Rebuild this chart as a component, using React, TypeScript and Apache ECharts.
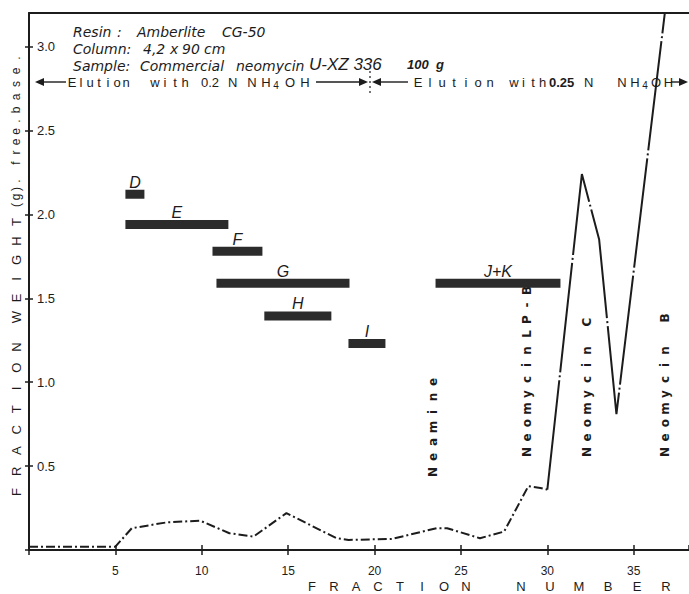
import React, { useEffect, useRef } from "react";
import * as echarts from "echarts";

// ---- data ----
const lowerFractions = [0, 5, 5.95, 8, 9.9, 11.6, 13, 14.9, 17.8, 18.5, 21, 23.6, 24.2, 26.1, 27.5, 28.9, 29.6, 30];
const lowerWeights = [0.02, 0.02, 0.13, 0.165, 0.175, 0.1, 0.08, 0.22, 0.07, 0.06, 0.066, 0.13, 0.13, 0.07, 0.11, 0.38, 0.37, 0.36];
const upperFractions = [30, 32, 33, 34, 37];
const upperWeights = [0.36, 2.24, 1.85, 0.81, 3.37];

const rangeNames = ["D", "E", "F", "G", "H", "I", "J+K"];
const rangeStarts = [5.58, 5.58, 10.62, 10.85, 13.62, 18.49, 23.53];
const rangeEnds = [6.68, 11.54, 13.51, 18.55, 17.5, 20.63, 30.76];
const rangeLevels = [2.12, 1.94, 1.78, 1.59, 1.395, 1.23, 1.59];

const xTickValues = [5, 10, 15, 20, 25, 30, 35];
const yTickValues = [0.5, 1.0, 1.5, 2.0, 2.5, 3.0];

const INK = "#1c1c1c";
const SANS = "Liberation Sans";
const DEJA = "DejaVu Sans";

type F = { size: number; family: string; style?: string; weight?: string };

function txt(text: string, x: number, y: number, f: F, align = "left", extra: any = {}) {
  return {
    type: "text",
    x,
    y,
    silent: true,
    ...extra,
    style: {
      text,
      fontSize: f.size,
      fontFamily: f.family,
      fontStyle: f.style || "normal",
      fontWeight: f.weight || "normal",
      fill: INK,
      align,
      verticalAlign: "middle",
      textAlign: align,
      textVerticalAlign: "middle",
    },
  };
}

function hLetters(str: string, x0: number, y: number, step: number, f: F) {
  const out: any[] = [];
  let x = x0;
  for (const ch of str) {
    if (ch !== " ") out.push(txt(ch, x, y, f, "center"));
    x += step;
  }
  return out;
}

function vLetters(str: string, x: number, y0: number, step: number, spaceStep: number, f: F) {
  const out: any[] = [];
  let y = y0;
  for (const ch of str) {
    if (ch === " ") {
      y -= spaceStep;
      continue;
    }
    out.push(txt(ch, x, y, f, "center", { rotation: Math.PI / 2 }));
    y -= step;
  }
  return out;
}

function arrowHead(tipX: number, y: number, dir: number) {
  return {
    type: "polygon",
    silent: true,
    shape: { points: [[tipX, y], [tipX - dir * 9, y - 4], [tipX - dir * 9, y + 4]] },
    style: { fill: INK },
  };
}

function hLine(x1: number, x2: number, y: number, extra: any = {}) {
  return {
    type: "line",
    silent: true,
    shape: { x1, y1: y, x2, y2: y },
    style: { stroke: INK, lineWidth: 1.4, ...extra },
  };
}

function buildGraphics() {
  const els: any[] = [];
  const hdr: F = { size: 14, family: DEJA, style: "italic" };
  // header, word by word
  els.push(txt("Resin", 73, 32, hdr));
  els.push(txt(":", 117, 32, hdr));
  els.push(txt("Amberlite", 137, 32, hdr));
  els.push(txt("CG-50", 222, 32, hdr));
  els.push(txt("Column:", 73, 49, hdr));
  els.push(txt("4,2", 143, 49, hdr));
  els.push(txt("x", 170, 49, hdr));
  els.push(txt("90", 182, 49, hdr));
  els.push(txt("cm", 204, 49, hdr));
  els.push(txt("Sample:", 73, 66, hdr));
  els.push(txt("Commercial", 140, 66, hdr));
  els.push(txt("neomycin", 236, 66, hdr));
  els.push(txt("U-XZ 336", 309, 64, { size: 17, family: SANS, style: "italic" }));
  els.push(txt("100  g", 407, 64, { size: 13, family: SANS, style: "italic", weight: "bold" }));

  // elution row
  const ey = 82;
  const ef: F = { size: 13, family: SANS };
  const sub: F = { size: 10, family: SANS };
  els.push(arrowHead(35, ey, -1));
  els.push(hLine(43, 66, ey));
  els.push(...hLetters("Elution", 72, ey, 9, ef));
  els.push(...hLetters("with", 155, ey, 10, ef));
  els.push(txt("0.2", 201, ey, ef));
  els.push(txt("N", 228, ey, ef));
  els.push(...hLetters("NH", 252, ey, 14, ef));
  els.push(txt("4", 276, ey + 3, sub, "center"));
  els.push(...hLetters("OH", 290, ey, 15, ef));
  els.push(hLine(316, 360, ey));
  els.push(arrowHead(368, ey, 1));
  els.push({
    type: "line",
    silent: true,
    shape: { x1: 370, y1: 71, x2: 370, y2: 94 },
    style: { stroke: INK, lineWidth: 1.2, lineDash: [2, 3] },
  });
  els.push(arrowHead(372, ey, -1));
  els.push(hLine(380, 408, ey));
  els.push(...hLetters("Elution", 418, ey, 12, ef));
  els.push(...hLetters("with", 514, ey, 9.5, ef));
  els.push(txt("0.25", 549, ey, { size: 13, family: SANS, weight: "bold" }));
  els.push(txt("N", 584, ey, ef));
  els.push(...hLetters("NH", 622, ey, 13, ef));
  els.push(txt("4", 645, ey + 3, sub, "center"));
  els.push(...hLetters("OH", 656, ey, 12.5, ef));
  els.push(hLine(671, 680, ey));
  els.push(arrowHead(688, ey, 1));

  // peak names
  const pf: F = { size: 12, family: DEJA, weight: "bold" };
  els.push(...vLetters("Neamine", 433, 472, 15, 0, pf));
  els.push(...vLetters("Neomycin LP-B", 527, 452, 14.5, 2, pf));
  els.push(...vLetters("Neomycin C", 587, 452, 14.5, 14, pf));
  els.push(...vLetters("Neomycin B", 665, 452, 14.5, 18, pf));

  // axis titles
  const af: F = { size: 13, family: SANS };
  const lf: F = { size: 12, family: SANS };
  els.push(...hLetters("FRACTION", 312, 586, 22, af));
  els.push(...hLetters("NUMBER", 521, 586, 29, af));
  els.push(...vLetters("FRACTION", 16, 492, 20.7, 0, af));
  els.push(...vLetters("WEIGHT", 16, 317, 19, 0, af));
  els.push(...vLetters("(g).", 16, 205, 8, 0, lf));
  els.push(...vLetters("free.", 16, 163, 10.5, 0, lf));
  els.push(...vLetters("base.", 16, 110, 13, 0, lf));
  return els;
}

export default function App() {
  const ref = useRef<HTMLDivElement>(null);
  useEffect(() => {
    if (!ref.current) return;
    const chart = echarts.init(ref.current, undefined, { renderer: "svg" });
    const axisLine = { show: true, onZero: false, lineStyle: { color: INK, width: 2 } };
    const tickStyle = { color: INK, width: 1.5 };
    const xCommon = { type: "value", min: 0, max: 38.2, interval: 5, splitLine: { show: false } };
    const yCommon = { type: "value", min: 0, max: 3.2, interval: 0.5, splitLine: { show: false } };
    const option: any = {
      animation: false,
      backgroundColor: "#ffffff",
      grid: { left: 29, top: 13, right: 0, bottom: 44, containLabel: false },
      xAxis: [
        {
          ...xCommon,
          position: "bottom",
          axisLine,
          axisTick: { show: true, length: 5, lineStyle: tickStyle },
          axisLabel: {
            margin: 15,
            fontSize: 12,
            fontFamily: SANS,
            color: INK,
            showMaxLabel: false,
            formatter: (v: number) => (xTickValues.includes(v) ? String(v) : ""),
          },
        },
        {
          ...xCommon,
          position: "bottom",
          axisLine: { show: false },
          axisTick: { show: true, inside: true, length: 5, lineStyle: tickStyle },
          axisLabel: { show: false },
        },
        {
          ...xCommon,
          position: "top",
          axisLine,
          axisTick: { show: false },
          axisLabel: { show: false },
        },
      ],
      yAxis: [
        {
          ...yCommon,
          position: "left",
          axisLine,
          axisTick: { show: true, length: 4, lineStyle: tickStyle },
          axisLabel: {
            inside: true,
            margin: 8,
            fontSize: 13,
            fontFamily: SANS,
            color: INK,
            showMaxLabel: false,
            formatter: (v: number) =>
              yTickValues.some((t) => Math.abs(t - v) < 1e-6) ? v.toFixed(1) : "",
          },
        },
        {
          ...yCommon,
          position: "left",
          axisLine: { show: false },
          axisTick: { show: true, inside: true, length: 4, lineStyle: tickStyle },
          axisLabel: { show: false },
        },
      ],
      series: [
        {
          type: "line",
          xAxisIndex: 0,
          yAxisIndex: 0,
          data: lowerFractions.map((x, i) => [x, lowerWeights[i]]),
          showSymbol: false,
          symbol: "none",
          clip: true,
          lineStyle: { color: INK, width: 2, type: [9, 3, 2, 3] },
        },
        {
          type: "line",
          xAxisIndex: 0,
          yAxisIndex: 0,
          data: upperFractions.map((x, i) => [x, upperWeights[i]]),
          showSymbol: false,
          symbol: "none",
          clip: true,
          lineStyle: { color: INK, width: 2, type: [110, 3, 2, 3] },
        },
        {
          type: "custom",
          xAxisIndex: 0,
          yAxisIndex: 0,
          encode: { x: [0, 1], y: 2 },
          data: rangeNames.map((_, i) => [rangeStarts[i], rangeEnds[i], rangeLevels[i]]),
          renderItem: (params: any, api: any) => {
            const s = api.value(0);
            const e = api.value(1);
            const lvl = api.value(2);
            const p0 = api.coord([s, lvl]);
            const p1 = api.coord([e, lvl]);
            const h = 9;
            return {
              type: "group",
              children: [
                {
                  type: "rect",
                  shape: { x: p0[0], y: p0[1] - h / 2, width: p1[0] - p0[0], height: h },
                  style: { fill: "#2b2b2b" },
                },
                {
                  type: "text",
                  x: (p0[0] + p1[0]) / 2,
                  y: p0[1] - 12,
                  style: {
                    text: rangeNames[params.dataIndex],
                    fontSize: 16,
                    fontFamily: SANS,
                    fontStyle: "italic",
                    fill: INK,
                    align: "center",
                    verticalAlign: "middle",
                    textAlign: "center",
                    textVerticalAlign: "middle",
                  },
                },
              ],
            };
          },
        },
      ],
      graphic: buildGraphics(),
    };
    chart.setOption(option);
    return () => chart.dispose();
  }, []);
  return (
    <div
      ref={ref}
      style={{ position: "absolute", left: 0, top: 0, width: 689, height: 594, background: "#fff" }}
    />
  );
}
